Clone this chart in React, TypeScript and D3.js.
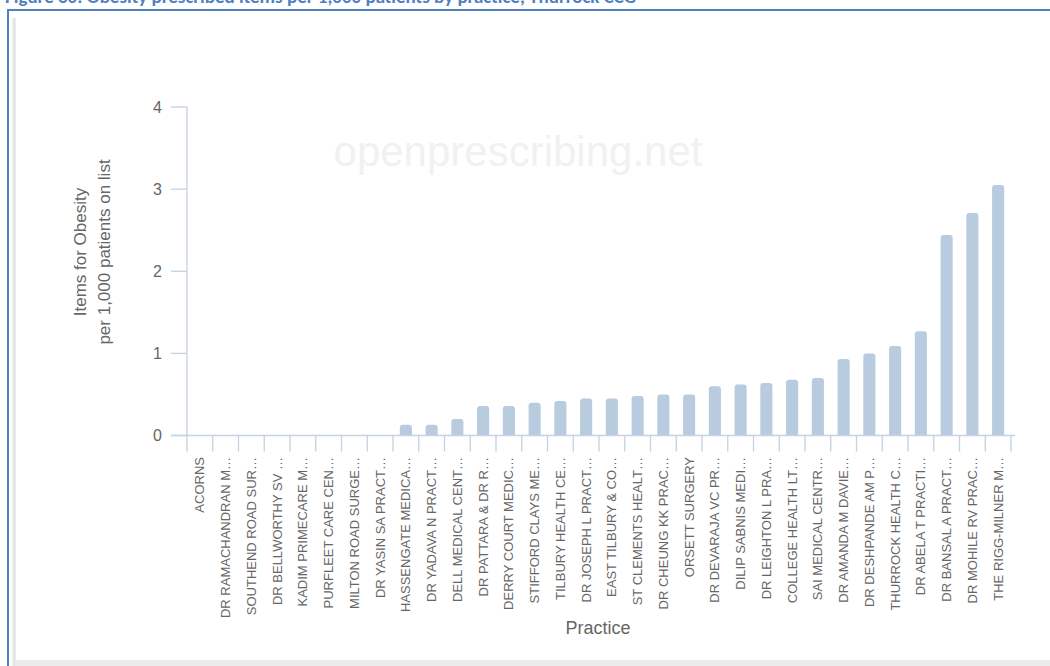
import React from "react";
import * as d3 from "d3";

const practices: string[] = [
  "ACORNS",
  "DR RAMACHANDRAN M…",
  "SOUTHEND ROAD SUR…",
  "DR BELLWORTHY SV …",
  "KADIM PRIMECARE M…",
  "PURFLEET CARE CEN…",
  "MILTON ROAD SURGE…",
  "DR YASIN SA PRACT…",
  "HASSENGATE MEDICA…",
  "DR YADAVA N PRACT…",
  "DELL MEDICAL CENT…",
  "DR PATTARA & DR R…",
  "DERRY COURT MEDIC…",
  "STIFFORD CLAYS ME…",
  "TILBURY HEALTH CE…",
  "DR JOSEPH L PRACT…",
  "EAST TILBURY & CO…",
  "ST CLEMENTS HEALT…",
  "DR CHEUNG KK PRAC…",
  "ORSETT SURGERY",
  "DR DEVARAJA VC PR…",
  "DILIP SABNIS MEDI…",
  "DR LEIGHTON L PRA…",
  "COLLEGE HEALTH LT…",
  "SAI MEDICAL CENTR…",
  "DR AMANDA M DAVIE…",
  "DR DESHPANDE AM P…",
  "THURROCK HEALTH C…",
  "DR ABELA T PRACTI…",
  "DR BANSAL A PRACT…",
  "DR MOHILE RV PRAC…",
  "THE RIGG-MILNER M…",
];

const itemsPer1000: number[] = [
  0, 0, 0, 0, 0, 0, 0, 0, 0.13, 0.13, 0.2, 0.36, 0.36, 0.4, 0.42, 0.45, 0.45,
  0.48, 0.5, 0.5, 0.6, 0.62, 0.64, 0.68, 0.7, 0.93, 1.0, 1.09, 1.27, 2.44,
  2.71, 3.05,
];

const yTicks: number[] = [0, 1, 2, 3, 4];

const titleText =
  "Figure 30: Obesity prescribed items per 1,000 patients by practice, Thurrock CCG";
const yTitleLines: string[] = ["Items for Obesity", "per 1,000 patients on list"];
const xTitle = "Practice";
const watermark = "openprescribing.net";

const W = 1050;
const H = 666;
const left = 187;
const right = 1011;
const top = 107;
const bottom = 435.5;
const barColor = "#b9cbdf";
const axisColor = "#c4d2e1";
const textColor = "#666666";
const font = "'Liberation Sans', Arial, sans-serif";

function barPath(x: number, y: number, w: number, h: number, r: number) {
  const rr = Math.min(r, h, w / 2);
  return `M${x},${y + h}V${y + rr}Q${x},${y} ${x + rr},${y}H${x + w - rr}Q${
    x + w
  },${y} ${x + w},${y + rr}V${y + h}Z`;
}

export default function App() {
  const pad = 0.53;
  const x = d3
    .scaleBand<string>()
    .domain(practices)
    .range([left, right])
    .paddingInner(pad)
    .paddingOuter(pad / 2);
  const y = d3.scaleLinear().domain([0, 4]).range([bottom, top]);
  const step = x.step();
  const gap = (step - x.bandwidth()) / 2;
  const boundaries = practices.map((p) => (x(p) as number) - gap);
  boundaries.push(right);

  return (
    <svg
      width={W}
      height={H}
      style={{ position: "absolute", left: 0, top: 0, background: "#fff" }}
    >
      <defs>
        <linearGradient id="shadowL" x1="0" x2="1" y1="0" y2="0">
          <stop offset="0" stopColor="#f4f4f4" />
          <stop offset="0.6" stopColor="#e2e2e2" />
          <stop offset="1" stopColor="#f0f0f0" />
        </linearGradient>
        <clipPath id="titleClip">
          <rect x={0} y={0} width={W} height={7} />
        </clipPath>
      </defs>
      {/* cut-off document title */}
      <g clipPath="url(#titleClip)">
        <text
          x={5}
          y={2.5}
          fill="#4f81bd"
          fontFamily="Carlito, 'Liberation Sans', Arial, sans-serif"
          fontWeight="bold"
          fontSize={19}
        >
          {titleText}
        </text>
      </g>
      {/* frame */}
      <rect x={7} y={9} width={W - 7} height={2} fill="#4f81bd" />
      <rect x={7} y={9} width={2} height={H - 9} fill="#4f81bd" />
      <rect x={12} y={18} width={4} height={H - 18} fill="url(#shadowL)" />
      <rect x={16} y={660} width={W - 16} height={6} fill="#ececec" />

      {/* watermark */}
      <text
        x={518}
        y={166}
        textAnchor="middle"
        fill="#f1f1f1"
        fontFamily={font}
        fontSize={42}
      >
        {watermark}
      </text>

      {/* y axis */}
      <line x1={left} x2={left} y1={top} y2={bottom} stroke={axisColor} strokeWidth={1.3} />
      {yTicks.map((t) => (
        <g key={t}>
          <line
            x1={left - 16}
            x2={left}
            y1={y(t)}
            y2={y(t)}
            stroke={axisColor}
            strokeWidth={1.3}
          />
          <text
            x={left - 25}
            y={y(t)}
            dy="0.35em"
            textAnchor="end"
            fill={textColor}
            fontFamily={font}
            fontSize={16}
          >
            {t}
          </text>
        </g>
      ))}
      <text
        transform={`translate(86,252) rotate(-90)`}
        textAnchor="middle"
        fill={textColor}
        fontFamily={font}
        fontSize={17}
      >
        {yTitleLines.map((l, i) => (
          <tspan key={i} x={0} dy={i === 0 ? 0 : 24}>
            {l}
          </tspan>
        ))}
      </text>

      {/* bars */}
      {practices.map((p, i) =>
        itemsPer1000[i] > 0 ? (
          <path
            key={p}
            d={barPath(
              x(p) as number,
              y(itemsPer1000[i]),
              x.bandwidth(),
              bottom - y(itemsPer1000[i]),
              3
            )}
            fill={barColor}
          />
        ) : null
      )}

      {/* x axis */}
      <line x1={left - 16} x2={right + 4} y1={bottom} y2={bottom} stroke={axisColor} strokeWidth={1.3} />
      {boundaries.map((b, i) => (
        <line
          key={i}
          x1={b}
          x2={b}
          y1={bottom}
          y2={bottom + 16}
          stroke={axisColor}
          strokeWidth={1.3}
        />
      ))}
      {practices.map((p) => {
        const cx = (x(p) as number) + x.bandwidth() / 2;
        return (
          <text
            key={p}
            transform={`translate(${cx},457) rotate(-90)`}
            dy="0.35em"
            textAnchor="end"
            fill={textColor}
            fontFamily={font}
            fontSize={13}
          >
            {p}
          </text>
        );
      })}
      <text
        x={598}
        y={634}
        textAnchor="middle"
        fill={textColor}
        fontFamily={font}
        fontSize={18}
      >
        {xTitle}
      </text>
    </svg>
  );
}
